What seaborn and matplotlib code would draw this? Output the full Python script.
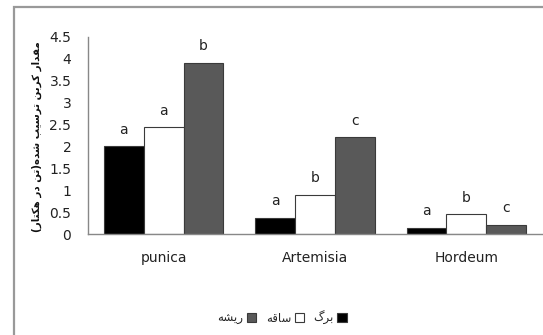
import matplotlib
matplotlib.use("Agg")
import matplotlib.pyplot as plt
from matplotlib.patches import Rectangle, Patch
import seaborn as sns
import pandas as pd

categories = ["punica", "Artemisia", "Hordeum"]
series = ["برگ", "ساقه", "ریشه"]
leaf = [2.00, 0.36, 0.14]
stem = [2.43, 0.89, 0.45]
root = [3.90, 2.20, 0.20]
letters_leaf = ["a", "a", "a"]
letters_stem = ["a", "b", "b"]
letters_root = ["b", "c", "c"]
ytick_vals = [0, 0.5, 1, 1.5, 2, 2.5, 3, 3.5, 4, 4.5]
ytick_labels = ["0", "0.5", "1", "1.5", "2", "2.5", "3", "3.5", "4", "4.5"]
ylabel = "مقدار کربن ترسیب شده(تن در هکتار)"
colors = ["#000000", "#ffffff", "#595959"]

# --- minimal Persian shaping (presentation forms) + visual reordering ---
FORMS = {
    "ا": ("\uFE8D", "\uFE8E", None, None),
    "د": ("\uFEA9", "\uFEAA", None, None),
    "ر": ("\uFEAD", "\uFEAE", None, None),
    "ب": ("\uFE8F", "\uFE90", "\uFE91", "\uFE92"),
    "ت": ("\uFE95", "\uFE96", "\uFE97", "\uFE98"),
    "س": ("\uFEB1", "\uFEB2", "\uFEB3", "\uFEB4"),
    "ش": ("\uFEB5", "\uFEB6", "\uFEB7", "\uFEB8"),
    "ق": ("\uFED5", "\uFED6", "\uFED7", "\uFED8"),
    "م": ("\uFEE1", "\uFEE2", "\uFEE3", "\uFEE4"),
    "ن": ("\uFEE5", "\uFEE6", "\uFEE7", "\uFEE8"),
    "ه": ("\uFEE9", "\uFEEA", "\uFEEB", "\uFEEC"),
    "ک": ("\uFB8E", "\uFB8F", "\uFB90", "\uFB91"),
    "گ": ("\uFB92", "\uFB93", "\uFB94", "\uFB95"),
    "ی": ("\uFBFC", "\uFBFD", "\uFBFE", "\uFBFF"),
}
MIRROR = {"(": ")", ")": "("}


def shape(s):
    out = []
    n = len(s)
    for i, ch in enumerate(s):
        if ch not in FORMS:
            out.append(ch)
            continue
        f = FORMS[ch]
        prev = s[i - 1] if i > 0 else None
        nxt = s[i + 1] if i < n - 1 else None
        jp = prev in FORMS and FORMS[prev][2] is not None
        jn = f[2] is not None and nxt in FORMS
        if jp and jn:
            out.append(f[3])
        elif jp:
            out.append(f[1])
        elif jn:
            out.append(f[2])
        else:
            out.append(f[0])
    vis = "".join(MIRROR.get(c, c) for c in reversed(out))
    return vis


df = pd.DataFrame({
    "cat": categories * 3,
    "part": [series[0]] * 3 + [series[1]] * 3 + [series[2]] * 3,
    "val": leaf + stem + root,
})

sns.set_theme(style="white")
plt.rcParams["font.family"] = ["DejaVu Sans"]

fig = plt.figure(figsize=(5.43, 3.35), dpi=100)
ax = fig.add_axes([88 / 543, 1 - 234 / 335, (542 - 88) / 543, (234 - 36.5) / 335])

sns.barplot(data=df, x="cat", y="val", hue="part", hue_order=series,
            order=categories, palette=colors, width=0.79, gap=0,
            edgecolor="#3a3a3a", linewidth=0.8, legend=False, ax=ax)

for cont, labs in zip(ax.containers, [letters_leaf, letters_stem, letters_root]):
    ax.bar_label(cont, labels=labs, padding=7, fontsize=10, color="#222222")

ax.set_ylim(0, 4.5)
ax.set_yticks(ytick_vals)
ax.set_yticklabels(ytick_labels)
ax.set_xlabel("")
ax.set_ylabel("")
ax.tick_params(axis="both", length=0, labelsize=10, colors="#222222")
ax.tick_params(axis="y", pad=12)
ax.tick_params(axis="x", pad=12)
for s in ["top", "right"]:
    ax.spines[s].set_visible(False)
for s in ["left", "bottom"]:
    ax.spines[s].set_color("#888888")
    ax.spines[s].set_linewidth(1.0)

fig.text(37 / 543, 1 - 136.5 / 335, shape(ylabel), rotation=90, ha="center",
         va="center", fontsize=7.4, fontweight="bold", color="#111111")

handles = [Patch(facecolor=colors[i], edgecolor="#3a3a3a", linewidth=0.8,
                 label=shape(series[i])) for i in [2, 1, 0]]
fig.legend(handles=handles, loc="center", bbox_to_anchor=(282 / 543, 1 - 318 / 335),
           ncol=3, frameon=False, markerfirst=False, fontsize=8.5,
           handlelength=0.8, handleheight=0.8, handletextpad=0.3,
           columnspacing=0.8)

fig.patches.append(Rectangle((14 / 543, -0.1), 1.2, 1 - 7.5 / 335 + 0.1,
                             transform=fig.transFigure, fill=False,
                             edgecolor="#999999", linewidth=1.6))

fig.savefig("out.png", dpi=100)
